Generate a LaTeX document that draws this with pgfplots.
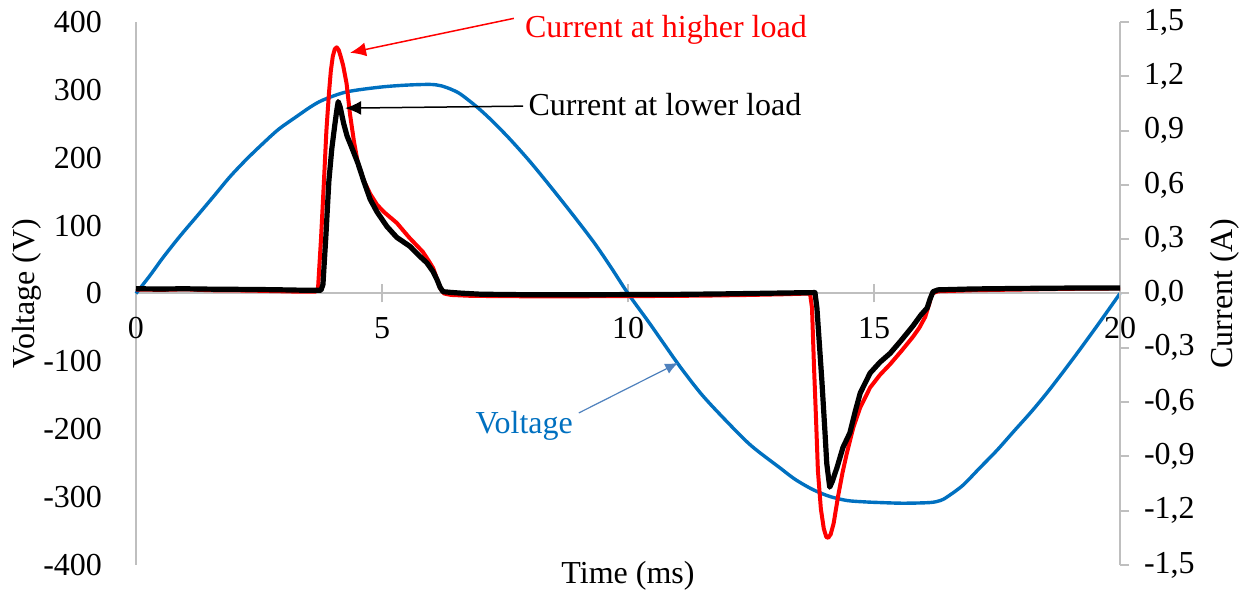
\documentclass[border=0pt]{standalone}
\usepackage{fontspec}
\setmainfont{Liberation Serif}
\usepackage{pgfplots}
\pgfplotsset{compat=1.18}
\usetikzlibrary{arrows.meta}
\definecolor{vblue}{RGB}{0,112,192}
\definecolor{agray}{RGB}{191,191,191}
\definecolor{arrblue}{RGB}{79,129,189}
\definecolor{cred}{RGB}{255,0,0}

\pgfplotstableread{
t V
0 0
0.3 28
0.55 53
0.9 85
1.24 114
1.6 145
1.91 172
2.25 198
2.58 221
2.9 242
3.27 261
3.55 275
3.8 285
4.28 297
4.96 304
5.5 307
5.98 308
6.2 306
6.4 301
6.59 294
6.91 276
7.2 257
7.58 229
8.0 195
8.43 157
8.9 114
9.31 75
9.65 39
10.0 0
10.4 -40
10.7 -71
11.06 -108
11.5 -149
12.0 -188
12.5 -224
13.09 -257
13.4 -274
13.76 -289
14.1 -299
14.45 -305
14.8 -307
15.12 -308
15.6 -309
16.14 -308
16.35 -305
16.48 -300
16.8 -283
17.15 -257
17.5 -231
17.83 -204
18.2 -174
18.52 -146
18.85 -115
19.19 -82
19.6 -41
20.0 0
}\voltage

\pgfplotstableread{
t I
0 0.022
0.5 0.020
1.0 0.023
1.5 0.018
2.0 0.017
2.5 0.015
3.0 0.012
3.3 0.010
3.65 0.010
3.70 0.03
3.76 0.30
3.82 0.62
3.87 0.90
3.92 1.10
3.96 1.23
4.00 1.31
4.04 1.35
4.08 1.36
4.12 1.345
4.16 1.31
4.21 1.26
4.28 1.16
4.35 0.99
4.43 0.84
4.51 0.72
4.62 0.63
4.76 0.55
4.9 0.49
5.04 0.45
5.3 0.39
5.55 0.31
5.83 0.23
5.95 0.18
6.04 0.14
6.12 0.08
6.18 0.03
6.26 0.0
6.4 -0.008
6.8 -0.013
7.5 -0.015
8.5 -0.016
9.5 -0.015
10.5 -0.014
11.5 -0.012
12.5 -0.008
13.2 -0.004
13.70 0.0
13.74 -0.08
13.78 -0.40
13.82 -0.68
13.86 -0.98
13.92 -1.19
13.98 -1.30
14.03 -1.345
14.07 -1.35
14.12 -1.33
14.18 -1.27
14.27 -1.12
14.36 -0.99
14.45 -0.88
14.58 -0.74
14.72 -0.63
14.92 -0.52
15.12 -0.45
15.33 -0.39
15.55 -0.32
15.79 -0.24
15.92 -0.19
16.04 -0.13
16.12 -0.06
16.18 0.0
16.3 0.012
17 0.018
18 0.022
19 0.026
20 0.028
}\highload

\pgfplotstableread{
t I
0 0.026
0.5 0.025
1.0 0.026
1.5 0.024
2.0 0.023
2.5 0.022
3.0 0.020
3.4 0.018
3.76 0.018
3.80 0.05
3.86 0.32
3.92 0.62
3.98 0.80
4.04 0.93
4.08 1.01
4.11 1.06
4.15 1.03
4.22 0.94
4.29 0.87
4.38 0.81
4.51 0.72
4.63 0.62
4.76 0.52
4.9 0.45
5.10 0.37
5.3 0.31
5.57 0.26
5.75 0.21
5.91 0.17
6.04 0.12
6.12 0.075
6.18 0.035
6.24 0.01
6.4 0.006
6.6 0.002
7 -0.004
8 -0.007
9 -0.007
10 -0.006
11 -0.005
12 -0.002
13 0.002
13.5 0.004
13.80 0.005
13.84 -0.08
13.94 -0.48
14.0 -0.75
14.04 -0.94
14.1 -1.07
14.15 -1.04
14.25 -0.96
14.37 -0.85
14.51 -0.77
14.62 -0.65
14.72 -0.55
14.92 -0.44
15.12 -0.38
15.33 -0.33
15.55 -0.26
15.79 -0.18
15.95 -0.12
16.08 -0.08
16.14 -0.03
16.2 0.01
16.3 0.02
17 0.025
18 0.028
19 0.03
20 0.03
}\lowload

\begin{document}
\begin{tikzpicture}[font=\fontsize{16}{19}\selectfont]
\begin{axis}[name=main,
  scale only axis, width=492pt, height=271.5pt,
  xmin=0, xmax=20, ymin=-400, ymax=400,
  axis x line=middle, axis y line=left,
  axis line style={agray, line width=1pt, -},
  hide obscured x ticks=false,
  xtick={0,5,10,15,20}, xticklabels={0,5,10,15,20},
  ytick={-400,-300,-200,-100,0,100,200,300,400},
  yticklabels={-400,-300,-200,-100,0,100,200,300,400},
  xtick align=center, major tick length=9pt,
  xtick style={agray, line width=1pt},
  ytick style={draw=none},
  tick label style={font=\fontsize{16}{19}\selectfont, text=black},
  yticklabel style={xshift=-9pt},
  xticklabel style={yshift=-4pt},
  clip=false,
]
\addplot[vblue, line width=1.7pt, smooth, tension=0.5, line join=round] table[x=t, y=V] {\voltage};
\end{axis}
\begin{axis}[
  scale only axis, width=492pt, height=271.5pt,
  xmin=0, xmax=20, ymin=-1.5, ymax=1.5,
  axis x line=none, axis y line=right,
  axis line style={agray, line width=1pt, -},
  ytick={-1.5,-1.2,-0.9,-0.6,-0.3,0,0.3,0.6,0.9,1.2,1.5},
  yticklabels={{-1,5},{-1,2},{-0,9},{-0,6},{-0,3},{0,0},{0,3},{0,6},{0,9},{1,2},{1,5}},
  ytick align=outside, major tick length=4.5pt,
  ytick style={agray, line width=1pt},
  tick label style={font=\fontsize{16}{19}\selectfont, text=black},
  yticklabel style={xshift=4pt},
  clip=false,
]
\addplot[cred, line width=2pt, line join=round] table[x=t, y=I] {\highload};
\addplot[black, line width=2.6pt, line join=round] table[x=t, y=I] {\lowload};
\draw[cred, line width=0.75pt, -{Latex[length=8pt, width=7pt]}] (axis cs:7.68,1.52) -- (axis cs:4.35,1.33);
\node[text=cred] at (axis cs:10.77,1.455) {Current at higher load};
\draw[black, line width=0.75pt, -{Latex[length=8pt, width=7pt]}] (axis cs:7.87,1.035) -- (axis cs:4.25,1.024);
\node[text=black] at (axis cs:10.75,1.043) {Current at lower load};
\draw[arrblue, line width=0.6pt, -{Latex[length=6.5pt, width=5.5pt]}] (axis cs:9.0,-0.66) -- (axis cs:11.02,-0.383);
\node[text=vblue] at (axis cs:7.89,-0.73) {Voltage};
\end{axis}
\node[rotate=90] at ([xshift=-54.5pt]main.west) {Voltage (V)};
\node[rotate=90] at ([xshift=52.5pt]main.east) {Current (A)};
\node at ([yshift=-5.5pt]main.south) {Time (ms)};
\pgfresetboundingbox
\path[use as bounding box] ([xshift=-68pt,yshift=-13pt]main.south west) rectangle ([xshift=66.5pt,yshift=11pt]main.north east);
\end{tikzpicture}
\end{document}
